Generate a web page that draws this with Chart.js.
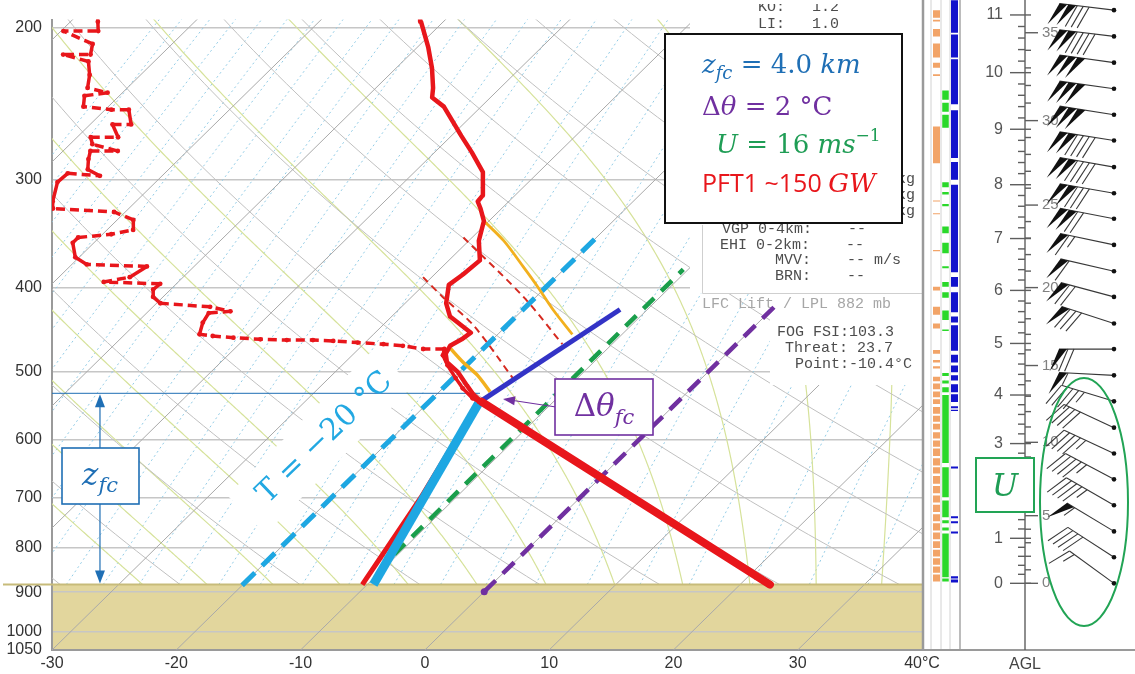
<!DOCTYPE html>
<html>
<head>
<meta charset="utf-8">
<title>Skew-T: pyroCb firepower threshold</title>
<script src="https://cdn.jsdelivr.net/npm/chart.js@4.4.1/dist/chart.umd.min.js"></script>
<style>
  html, body { margin: 0; padding: 0; background: #fff; }
  #wrap { position: relative; width: 1135px; height: 674px; overflow: hidden; }
  #wrap canvas { position: absolute; left: 0; top: 0; }
</style>
</head>
<body>
<div id="wrap">
  <canvas id="skewt" width="1135" height="674"></canvas>
  <canvas id="side" width="1135" height="674"></canvas>
</div>
<script>
// ---------- diagram geometry ----------
const P_BOTTOM = 1050;          // hPa, bottom of the diagram
const P_TOP = 195.9;            // hPa, top of the diagram
const SKEW = 30.77;             // °C shift per unit ln(p): gives 45° isotherms
const GROUND_P = 882;           // hPa, surface / lifted parcel level
const PRESSURE_TICKS = [200, 300, 400, 500, 600, 700, 800, 900, 1000, 1050];
const TEMP_MIN = -30, TEMP_MAX = 40;

// reference lines of the diagram
const ISOTHERMS = [-110, -100, -90, -80, -70, -60, -50, -40, -30, -20, -10, 0, 10, 20, 30, 40];
const DRY_ADIABATS_C = [-26, -16, -6, 4, 14, 24, 34, 44, 54, 64, 74, 84, 94, 104, 114, 124, 134, 144, 154];
const MOIST_ADIABATS_C = [-20, -15, -10, -5, 0, 5, 10, 15, 20, 25, 30, 35, 40];
const MIXING_RATIOS = [0.01, 0.013, 0.018, 0.024, 0.032, 0.042, 0.056, 0.075, 0.1, 0.13, 0.18, 0.24, 0.32,
                       0.42, 0.56, 0.75, 1, 1.33, 1.8, 2.4, 3.2, 4.2, 5.6, 7.5, 10, 13, 18, 24, 32];

// ---------- sounding ----------
// mixed layer temperature (dry adiabat from the surface to the LCL)
const mixedTempP = [882, 542];
const mixedTempT = [22.4, -15.8];
// temperature above the mixed layer
const tempP = [542, 532, 519, 501, 488, 477, 467, 459, 451, 432, 417, 397, 386, 372, 353, 335, 324, 318,
               313, 294, 279, 267, 247, 241, 235, 223, 211, 197, 193];
const tempT = [-15.8, -17.0, -18.3, -20.1, -21.8, -22.6, -22.9, -22.5, -22.3, -25.3, -26.7, -28.0, -27.7,
               -27.5, -29.2, -30.4, -31.7, -32.5, -32.6, -34.5, -37.0, -39.2, -43.0, -44.7, -45.4, -47.1,
               -49.1, -51.8, -52.5];
// mixed layer dewpoint
const mixedDewP = [882, 700, 542];
const mixedDewT = [-10.4, -12.8, -16.0];
// dewpoint above the mixed layer
const dewP = [542, 537, 523, 509, 492, 479, 471, 471, 467, 465, 463, 461, 460, 460, 459, 457, 455, 453, 439,
              428, 426, 421, 417, 410, 402, 396, 394, 389, 378, 376, 369, 355, 350, 347, 343, 334, 327, 324,
              318, 302, 295, 297, 292, 284, 278, 278, 273, 268, 268, 259, 259, 249, 249, 247, 240, 238, 235,
              227, 219, 215, 215, 209, 202, 202, 197, 192];
const dewT = [-16.0, -16.8, -18.4, -19.8, -21.5, -22.7, -23.1, -24.8, -26.7, -28.4, -30.6, -32.7, -34.4,
              -36.5, -38.7, -41.0, -42.8, -44.0, -44.7, -45.0, -43.4, -45.4, -49.7, -50.8, -51.4, -51.3,
              -56.0, -54.3, -53.8, -58.8, -60.3, -61.7, -61.7, -59.3, -57.9, -58.7, -60.9, -66.1, -66.7,
              -67.9, -67.8, -65.0, -66.5, -67.3, -67.8, -65.6, -68.2, -68.9, -66.7, -68.2, -66.7, -68.1,
              -69.5, -72.0, -72.8, -71.2, -73.2, -74.1, -75.3, -77.9, -75.7, -76.4, -79.8, -77.0, -77.8, -78.6];

// ---------- plume analysis lines ----------
const isoMinus20T = [-20, -20];   const isoMinus20P = [884, 348];
const mixRatioT = [-9.5, -16.0];  const mixRatioP = [882, 540];
const greenT = [-10.3, -10.4];    const greenP = [814, 381];
const purpleT = [0, 0];           const purpleP = [899, 421];
const plumeT = [-15.9, -12.2];    const plumeP = [542, 424];
const orangeUpperT = [-30.4, -27.2, -23.4, -20.7, -17.6, -14.0];
const orangeUpperP = [335, 353, 379, 399, 424, 453];
const orangeLowerT = [-22.7, -20.5, -18.3, -15.9];
const orangeLowerP = [470, 488, 505, 528];
const redDashUpperT = [-30.7, -21.0, -14.0];        const redDashUpperP = [350, 410, 465];
const redDashLowerT = [-30.7, -27.5, -22.6, -15.2]; const redDashLowerP = [389, 410, 443, 509];
const ZFC_P = 530;       // hPa, free-convection level
const ZFC_END_T = -16.6; // °C, where the level line meets the profile

// ---------- side panel ----------
const heightKm = [0, 1, 2, 3, 4, 5, 6, 7, 8, 9, 10, 11];
const heightKmP = [882, 784, 694, 612, 539, 471, 410, 358, 311, 269, 232, 199.5];
const heightKft = [0, 5, 10, 15, 20, 25, 30, 35];
const heightKftP = [882, 739, 610, 499, 407, 328, 263, 209];

const barbP = [882, 824, 770, 719, 672, 628, 587, 548, 512, 478, 447, 417, 390, 364, 340, 318, 297, 277, 259, 242, 226, 211, 197];
const barbDir = [306, 303, 301, 300, 298, 295, 295, 287, 273, 270, 288, 285, 283, 282, 281, 280, 280, 279, 279, 278, 278, 277, 277];
const barbSpd = [15, 40, 55, 45, 45, 45, 40, 45, 55, 70, 80, 70, 60, 65, 120, 130, 140, 140, 150, 150, 150, 140, 130];

// cloud / icing layer columns, as [bottom hPa, top hPa]
const orangeBands = [[201, 197], [203, 202], [211, 207], [223, 215], [229, 226], [234, 233], [294, 267], [325, 324],
  [336, 335], [370, 369], [410, 406], [437, 428], [453, 447], [484, 479], [495, 492], [503, 500],
  [520, 514], [531, 523], [542, 534], [552, 545], [566, 556], [578, 569], [590, 581], [604, 594],
  [617, 607], [632, 620], [648, 636], [662, 651], [680, 666], [697, 684], [714, 701], [732, 718],
  [750, 736], [768, 754], [786, 772], [804, 790], [822, 808], [840, 826], [858, 844], [878, 862]];
const greenBands = [[249, 243], [257, 251], [268, 259], [313, 309], [319, 317], [329, 327], [353, 347],
  [372, 362], [387, 385], [406, 401], [418, 412], [443, 432], [456, 454], [513, 509], [523, 519],
  [535, 528], [644, 539], [704, 651], [742, 710], [754, 748], [768, 762], [868, 774], [878, 871]];
const blueBands = [[209, 192], [223, 210], [252, 224], [290, 256], [307, 293], [391, 311], [406, 396],
  [434, 412], [446, 439], [480, 449], [495, 485], [508, 499], [519, 512], [535, 524], [549, 538],
  [558, 555], [562, 560], [653, 650], [744, 740], [754, 750], [774, 770], [871, 866], [880, 873]];

// ---------- helpers ----------
const sx = (t, p) => t + SKEW * Math.log(P_BOTTOM / p);
const toPoints = (T, P) => T.map((t, i) => ({ x: sx(t, P[i]), y: P[i] }));

const SERIF = "'DejaVu Serif', 'Liberation Serif', serif";
const MONO = "'Liberation Mono', 'DejaVu Sans Mono', monospace";
const SANS = "'Liberation Sans', Arial, sans-serif";
const CAL = "'Open Sans', 'Liberation Sans', sans-serif";

const RED = '#e8161b';
const CYAN = '#1ea7e2';
const BLUE_TXT = '#1f6fb5';
const PURPLE = '#7030a0';
const GREEN = '#1f9d55';

function mixingDew(w, p) {
  const e = w * p / (622 + w);
  const l = Math.log(e / 6.112);
  return 243.5 * l / (17.67 - l);
}
function moistSlope(T, p) {
  const es = 6.112 * Math.exp(17.67 * (T - 273.15) / (T - 29.65));
  const rs = 0.622 * es / (p - es);
  return (287.04 * T + 2.501e6 * rs) / (p * (1005.7 + 2.501e6 * 2.501e6 * rs * 0.622 / (287.04 * T * T)));
}
function moistCurve(thetaW) {
  let T = thetaW + 273.15, p = 1000;
  const out = [];
  const step = -2;
  while (p > 186) {
    if (p <= GROUND_P) out.push([T - 273.15, p]);
    const k1 = moistSlope(T, p);
    const k2 = moistSlope(T + k1 * step / 2, p + step / 2);
    T += k2 * step; p += step;
  }
  return out;
}
function levels(n) {
  const out = [];
  for (let i = 0; i <= n; i++) out.push(GROUND_P * Math.pow(186 / GROUND_P, i / n));
  return out;
}
function textRuns(ctx, x, y, list, align) {
  let total = 0;
  list.forEach(r => { ctx.font = r[1]; total += ctx.measureText(r[0]).width; });
  let cx = align === 'center' ? x - total / 2 : x;
  ctx.textAlign = 'left';
  ctx.textBaseline = 'alphabetic';
  list.forEach(r => {
    ctx.font = r[1]; ctx.fillStyle = r[2];
    ctx.fillText(r[0], cx, y + (r[3] || 0));
    cx += ctx.measureText(r[0]).width;
  });
}
function seg(ctx, x0, y0, x1, y1) { ctx.beginPath(); ctx.moveTo(x0, y0); ctx.lineTo(x1, y1); ctx.stroke(); }
function arrowHead(ctx, tx, ty, dx, dy, len, half) {
  const n = Math.hypot(dx, dy); const ux = dx / n, uy = dy / n;
  ctx.beginPath();
  ctx.moveTo(tx, ty);
  ctx.lineTo(tx - ux * len - uy * half, ty - uy * len + ux * half);
  ctx.lineTo(tx - ux * len + uy * half, ty - uy * len - ux * half);
  ctx.closePath(); ctx.fill();
}

// ---------- background of the diagram ----------
const skewBackground = {
  id: 'skewBackground',
  beforeDraw(chart) {
    const { ctx, chartArea: a, scales: { y } } = chart;
    ctx.save();
    ctx.fillStyle = '#ffffff';
    ctx.fillRect(0, 0, chart.width, chart.height);
    const yg = y.getPixelForValue(GROUND_P);
    ctx.fillStyle = '#e2d69d';
    ctx.fillRect(a.left, yg, a.right - a.left, a.bottom - yg);
    ctx.restore();
  },
  beforeDatasetsDraw(chart) {
    const { ctx, chartArea: a, scales: { x, y } } = chart;
    const px = (t, p) => [x.getPixelForValue(sx(t, p)), y.getPixelForValue(p)];
    const curve = (pts, color, width, dash) => {
      ctx.strokeStyle = color; ctx.lineWidth = width; ctx.setLineDash(dash || []);
      ctx.beginPath();
      pts.forEach((q, i) => { const [X, Y] = px(q[0], q[1]); if (i) ctx.lineTo(X, Y); else ctx.moveTo(X, Y); });
      ctx.stroke();
    };
    const lv = levels(70);
    ctx.save();
    ctx.beginPath(); ctx.rect(a.left, a.top, a.right - a.left, a.bottom - a.top); ctx.clip();
    // saturation mixing ratio lines
    MIXING_RATIOS.forEach(w => curve(lv.map(p => [mixingDew(w, p), p]), '#93cce6', 1, [2, 3]));
    // moist adiabats
    MOIST_ADIABATS_C.forEach(tw => curve(moistCurve(tw), '#d6e29a', 1.2));
    // dry adiabats
    DRY_ADIABATS_C.forEach(th => curve(lv.map(p => [(th + 273.15) * Math.pow(p / 1000, 0.2857) - 273.15, p]), '#c0c0c0', 1));
    // isotherms
    ISOTHERMS.forEach(t => curve([[t, P_BOTTOM], [t, 186]], '#a9a9a9', 1));
    ctx.restore();

    ctx.save();
    // top of the ground layer
    const yg = y.getPixelForValue(GROUND_P);
    ctx.strokeStyle = '#c7bb7a'; ctx.lineWidth = 2;
    seg(ctx, 3, yg, a.right, yg);

    // text panels
    ctx.fillStyle = '#ffffff';
    ctx.fillRect(690, 0, 240, 293);
    ctx.fillRect(770, 293, 160, 92);
    ctx.save();
    ctx.translate(320, 441); ctx.rotate(-Math.PI / 4);
    ctx.fillRect(-104, -27, 208, 54);
    ctx.restore();

    ctx.strokeStyle = '#cfcfcf'; ctx.lineWidth = 1;
    ctx.beginPath(); ctx.moveTo(702.5, 225); ctx.lineTo(702.5, 293.5); ctx.lineTo(922, 293.5); ctx.stroke();

    ctx.font = `15px ${MONO}`;
    ctx.fillStyle = '#4d4d4d';
    ctx.textBaseline = 'alphabetic';
    ctx.textAlign = 'left';
    ctx.fillText('KO:   1.2', 758, 11);
    ctx.fillText('LI:   1.0', 758, 28);
    ctx.textAlign = 'right';
    ctx.fillText('CAPE:      0 J/kg', 915, 183);
    ctx.fillText('CINH:      0 J/kg', 915, 199);
    ctx.fillText('DCAPE:     0 J/kg', 915, 215);
    ctx.textAlign = 'left';
    ctx.fillText('VGP 0-4km:    --', 722, 233);
    ctx.fillText('EHI 0-2km:    --', 720, 249);
    ctx.fillText('MVV:    -- m/s', 775, 264);
    ctx.fillText('BRN:    --', 775, 280);
    ctx.fillStyle = '#a6a6a6';
    ctx.fillText('LFC Lift / LPL 882 mb', 702, 308);
    ctx.fillStyle = '#4d4d4d';
    ctx.fillText('FOG FSI:103.3', 777, 336);
    ctx.fillText('Threat: 23.7', 785, 352);
    ctx.fillText('Point:-10.4°C', 795, 368);
    // the panel text runs off the top edge
    ctx.fillStyle = '#ffffff';
    ctx.fillRect(740, 0, 120, 4);
    ctx.restore();
  }
};

// ---------- annotations drawn over the sounding ----------
const plumeAnnotations = {
  id: 'plumeAnnotations',
  afterDatasetsDraw(chart) {
    const { ctx, scales: { x, y } } = chart;
    ctx.save();

    // free-convection depth arrow
    const ax = x.getPixelForValue(-26.14);
    const yTop = y.getPixelForValue(ZFC_P), yBot = y.getPixelForValue(GROUND_P);
    ctx.strokeStyle = BLUE_TXT; ctx.fillStyle = BLUE_TXT; ctx.lineWidth = 1.2;
    seg(ctx, ax, yTop + 8, ax, yBot - 8);
    arrowHead(ctx, ax, yTop + 1, 0, -1, 13, 5);
    arrowHead(ctx, ax, yBot - 1, 0, 1, 13, 5);

    // z_fc label box
    ctx.fillStyle = '#fff'; ctx.fillRect(62, 448, 77, 56);
    ctx.strokeStyle = BLUE_TXT; ctx.lineWidth = 1.6; ctx.strokeRect(62, 448, 77, 56);
    textRuns(ctx, 100, 485, [['z', `italic 31px ${SERIF}`, BLUE_TXT], ['fc', `italic 21px ${SERIF}`, BLUE_TXT, 7]], 'center');

    // Δθ_fc label with pointer
    ctx.strokeStyle = PURPLE; ctx.fillStyle = PURPLE; ctx.lineWidth = 1.2;
    seg(ctx, 556, 407, 510, 400);
    arrowHead(ctx, 503, 399, -1, -0.15, 12, 4.5);
    ctx.fillStyle = '#fff'; ctx.fillRect(555, 379, 98, 56);
    ctx.strokeStyle = PURPLE; ctx.lineWidth = 1.6; ctx.strokeRect(555, 379, 98, 56);
    textRuns(ctx, 604, 416, [['Δ', `31px ${SERIF}`, PURPLE], ['θ', `italic 31px ${SERIF}`, PURPLE], ['fc', `italic 21px ${SERIF}`, PURPLE, 8]], 'center');

    // T = −20 °C along the isotherm
    ctx.save();
    ctx.translate(325, 438); ctx.rotate(-44 * Math.PI / 180);
    ctx.font = `30px ${SERIF}`; ctx.fillStyle = '#22a8e2';
    ctx.textAlign = 'center'; ctx.textBaseline = 'middle';
    ctx.fillText('T = −20 °C', 0, 0);
    ctx.restore();

    // summary box
    ctx.fillStyle = '#fff'; ctx.fillRect(665, 34, 237, 189);
    ctx.strokeStyle = '#111'; ctx.lineWidth = 2; ctx.strokeRect(665, 34, 237, 189);
    textRuns(ctx, 702, 73, [['z', `italic 26px ${SERIF}`, BLUE_TXT], ['fc', `italic 18px ${SERIF}`, BLUE_TXT, 6],
      [' = 4.0 ', `26px ${SERIF}`, BLUE_TXT], ['km', `italic 26px ${SERIF}`, BLUE_TXT]]);
    textRuns(ctx, 702, 115, [['Δ', `26px ${SERIF}`, PURPLE], ['θ', `italic 26px ${SERIF}`, PURPLE],
      [' = 2 °C', `26px ${SERIF}`, PURPLE]]);
    textRuns(ctx, 716, 153, [['U', `italic 26px ${SERIF}`, GREEN], [' = 16 ', `26px ${SERIF}`, GREEN],
      ['ms', `italic 26px ${SERIF}`, GREEN], ['−1', `17px ${SERIF}`, GREEN, -12]]);
    textRuns(ctx, 702, 192, [['PFT1 ~150 ', `25px ${CAL}`, RED], ['GW', `italic 26px ${SERIF}`, RED]]);

    ctx.restore();
  }
};

function lineSet(label, points, style) {
  return Object.assign({
    label, data: points, pointRadius: 0, fill: false, tension: 0,
    borderCapStyle: 'butt', borderJoinStyle: 'round'
  }, style);
}

const horizontalJump = ctx => {
  const dx = Math.abs(ctx.p1.x - ctx.p0.x), dy = Math.abs(ctx.p1.y - ctx.p0.y);
  return dx > 12 && dx > 2.2 * dy ? [9, 5] : undefined;
};

Chart.defaults.font.family = SANS;

new Chart(document.getElementById('skewt'), {
  type: 'line',
  data: {
    datasets: [
      lineSet('Mixed-layer temperature', toPoints(mixedTempT, mixedTempP), { borderColor: RED, borderWidth: 8, borderCapStyle: 'round', order: 1 }),
      lineSet('Plume line', toPoints(plumeT, plumeP), { borderColor: '#3333c6', borderWidth: 5, order: 2 }),
      lineSet('Temperature', toPoints(tempT, tempP), { borderColor: RED, borderWidth: 4.5, order: 3 }),
      lineSet('Dewpoint', toPoints(dewT, dewP), { borderColor: RED, borderWidth: 3.5, pointRadius: 2.4, pointBackgroundColor: RED, pointBorderWidth: 0, segment: { borderDash: horizontalJump }, order: 4 }),
      lineSet('Surface mixing ratio', toPoints(mixRatioT, mixRatioP), { borderColor: CYAN, borderWidth: 9, order: 5 }),
      lineSet('Mixed-layer dewpoint', toPoints(mixedDewT, mixedDewP), { borderColor: RED, borderWidth: 5, order: 6 }),
      lineSet('Parcel, upper', toPoints(orangeUpperT, orangeUpperP), { borderColor: '#f2b01e', borderWidth: 2.8, tension: 0.3, order: 7 }),
      lineSet('Parcel, lower', toPoints(orangeLowerT, orangeLowerP), { borderColor: '#f2b01e', borderWidth: 3.5, tension: 0.3, order: 7 }),
      lineSet('Dry adiabat, upper', toPoints(redDashUpperT, redDashUpperP), { borderColor: '#d62a20', borderWidth: 2, borderDash: [7, 5], tension: 0.3, order: 8 }),
      lineSet('Dry adiabat, lower', toPoints(redDashLowerT, redDashLowerP), { borderColor: '#d62a20', borderWidth: 2, borderDash: [7, 5], tension: 0.3, order: 8 }),
      lineSet('0 °C', toPoints(purpleT, purpleP), { borderColor: PURPLE, borderWidth: 4.5, borderDash: [16, 10], pointRadius: [3.5, 0], pointBackgroundColor: PURPLE, pointBorderWidth: 0, order: 9 }),
      lineSet('Wind line', toPoints(greenT, greenP), { borderColor: '#1a9e4b', borderWidth: 4.5, borderDash: [15, 10], order: 9 }),
      lineSet('−20 °C', toPoints(isoMinus20T, isoMinus20P), { borderColor: CYAN, borderWidth: 5, borderDash: [18, 10], order: 9 }),
      lineSet('z_fc level', [{ x: TEMP_MIN, y: ZFC_P }, { x: sx(ZFC_END_T, ZFC_P), y: ZFC_P }], { borderColor: BLUE_TXT, borderWidth: 1, order: 10 })
    ]
  },
  options: {
    responsive: false, animation: false, devicePixelRatio: 1, events: [],
    layout: { padding: { left: 0, right: 213, top: 8, bottom: 0 } },
    plugins: { legend: { display: false }, tooltip: { enabled: false } },
    scales: {
      x: {
        type: 'linear', min: TEMP_MIN, max: TEMP_MAX,
        afterFit: s => { s.height = 24; },
        grid: { display: false, drawTicks: false },
        border: { display: true, color: '#9a9a9a', width: 2 },
        ticks: { stepSize: 10, padding: 4, color: '#333', font: { size: 16 }, maxRotation: 0, autoSkip: false,
                 callback: v => (v === TEMP_MAX ? '40°C' : String(v)) }
      },
      y: {
        type: 'logarithmic', reverse: true, min: P_TOP, max: P_BOTTOM,
        afterFit: s => { s.width = 52; },
        afterBuildTicks: s => { s.ticks = PRESSURE_TICKS.map(v => ({ value: v })); },
        grid: { color: '#c6c6c6', lineWidth: 1.6, drawTicks: false },
        border: { display: true, color: '#9a9a9a', width: 2 },
        ticks: { padding: 10, color: '#333', font: { size: 16 }, autoSkip: false, callback: v => String(v) }
      }
    }
  },
  plugins: [skewBackground, plumeAnnotations]
});

// ---------- side panel: cloud columns, height scale and wind barbs ----------
function drawBarb(ctx, x0, y0, dir, speed) {
  const r = dir * Math.PI / 180;
  const ux = Math.sin(r), uy = -Math.cos(r);
  const A = -67 * Math.PI / 180;
  const fx = ux * Math.cos(A) - uy * Math.sin(A), fy = ux * Math.sin(A) + uy * Math.cos(A);
  const L = 55, gap = 6, full = 24, half = 13, flag = 8;
  const at = d => [x0 + ux * d, y0 + uy * d];
  ctx.strokeStyle = '#383838'; ctx.fillStyle = '#111'; ctx.lineWidth = 1.1;
  seg(ctx, x0, y0, x0 + ux * L, y0 + uy * L);
  ctx.beginPath(); ctx.arc(x0, y0, 2.3, 0, Math.PI * 2); ctx.fill();
  let s = Math.round(speed / 5) * 5;
  let pos = L;
  while (s >= 50) {
    const [ax, ay] = at(pos), [bx, by] = at(pos - flag);
    ctx.beginPath(); ctx.moveTo(ax, ay); ctx.lineTo(bx, by); ctx.lineTo(ax + fx * full, ay + fy * full); ctx.closePath(); ctx.fill();
    pos -= flag + 1; s -= 50;
  }
  while (s >= 10) {
    const [ax, ay] = at(pos);
    seg(ctx, ax, ay, ax + fx * full, ay + fy * full);
    pos -= gap; s -= 10;
  }
  if (s >= 5) {
    if (pos === L) pos -= gap;
    const [ax, ay] = at(pos);
    seg(ctx, ax, ay, ax + fx * half, ay + fy * half);
  }
}

const sidePanel = {
  id: 'sidePanel',
  beforeDatasetsDraw(chart) {
    const { ctx, scales: { x, y } } = chart;
    const bottom = y.getPixelForValue(P_BOTTOM);
    ctx.save();
    [[1, '#9a9a9a', 2.5], [9, '#d2d2d2', 1], [19, '#d2d2d2', 1], [28, '#d2d2d2', 1], [38, '#a6a6a6', 1.5]].forEach(([u, c, w]) => {
      const X = x.getPixelForValue(u);
      ctx.strokeStyle = c; ctx.lineWidth = w;
      seg(ctx, X, 0, X, bottom);
    });
    ctx.restore();
  },
  afterDatasetsDraw(chart) {
    const { ctx, scales: { x, y } } = chart;
    const bottom = y.getPixelForValue(P_BOTTOM);
    ctx.save();
    // bottom edge
    ctx.strokeStyle = '#9a9a9a'; ctx.lineWidth = 2;
    seg(ctx, 922, bottom, 1135, bottom);

    // height scale (km AGL on the left, kft on the right)
    const ax = x.getPixelForValue(103);
    ctx.strokeStyle = '#5e5e5e'; ctx.lineWidth = 1.4;
    seg(ctx, ax, 0, ax, bottom);
    ctx.fillStyle = '#555'; ctx.font = `16px ${SANS}`; ctx.textAlign = 'right'; ctx.textBaseline = 'middle';
    heightKm.forEach((h, i) => {
      const Y = y.getPixelForValue(heightKmP[i]);
      seg(ctx, ax - 15, Y, ax + 6, Y);
      ctx.fillText(String(h), ax - 22, Y);
      if (i < heightKm.length - 1) {
        const Y1 = y.getPixelForValue(heightKmP[i + 1]);
        for (let k = 1; k < 5; k++) { const Ym = Y + (Y1 - Y) * k / 5; seg(ctx, ax - 7, Ym, ax, Ym); }
      }
    });
    ctx.fillStyle = '#808080'; ctx.font = `15px ${SANS}`; ctx.textAlign = 'left';
    heightKft.forEach((h, i) => {
      const Y = y.getPixelForValue(heightKftP[i]);
      seg(ctx, ax, Y, ax + 13, Y);
      ctx.fillText(String(h), ax + 17, Y);
      if (i < heightKft.length - 1) {
        const Y1 = y.getPixelForValue(heightKftP[i + 1]);
        for (let k = 1; k < 5; k++) { const Ym = Y + (Y1 - Y) * k / 5; seg(ctx, ax, Ym, ax + 6, Ym); }
      }
    });
    ctx.fillStyle = '#444'; ctx.font = `16px ${SANS}`; ctx.textAlign = 'center'; ctx.textBaseline = 'alphabetic';
    ctx.fillText('AGL', ax, 669);

    // wind barbs
    const bx = x.getPixelForValue(192);
    barbP.forEach((p, i) => drawBarb(ctx, bx, y.getPixelForValue(p), barbDir[i], barbSpd[i]));

    // low-level wind group
    ctx.strokeStyle = '#22a455'; ctx.lineWidth = 2;
    ctx.beginPath(); ctx.ellipse(1084, 502, 44, 124, 0, 0, Math.PI * 2); ctx.stroke();
    ctx.fillStyle = '#fff'; ctx.fillRect(976, 458, 58, 54);
    ctx.strokeStyle = '#22a455'; ctx.lineWidth = 2; ctx.strokeRect(976, 458, 58, 54);
    textRuns(ctx, 1005, 496, [['U', `italic 31px ${SERIF}`, '#1f9d55']], 'center');
    ctx.restore();
  }
};

function bandSet(bands, u, width, color) {
  const data = [];
  bands.forEach(([p0, p1]) => { data.push({ x: u, y: p0 }, { x: u, y: p1 }, { x: u, y: null }); });
  return { data, borderColor: color, borderWidth: width, pointRadius: 0, borderCapStyle: 'butt', spanGaps: false, fill: false, tension: 0 };
}

new Chart(document.getElementById('side'), {
  type: 'line',
  data: {
    datasets: [
      bandSet(orangeBands, 14.5, 7, '#f2a468'),
      bandSet(greenBands, 23.5, 6.5, '#2ad82a'),
      bandSet(blueBands, 32.5, 7, '#1212cc')
    ]
  },
  options: {
    responsive: false, animation: false, devicePixelRatio: 1, events: [],
    layout: { padding: { left: 922, right: 0, top: 0, bottom: 24 } },
    plugins: { legend: { display: false }, tooltip: { enabled: false } },
    scales: {
      x: { type: 'linear', display: false, min: 0, max: 213 },
      y: { type: 'logarithmic', display: false, reverse: true, min: 191.85, max: P_BOTTOM }
    }
  },
  plugins: [sidePanel]
});
</script>
</body>
</html>
